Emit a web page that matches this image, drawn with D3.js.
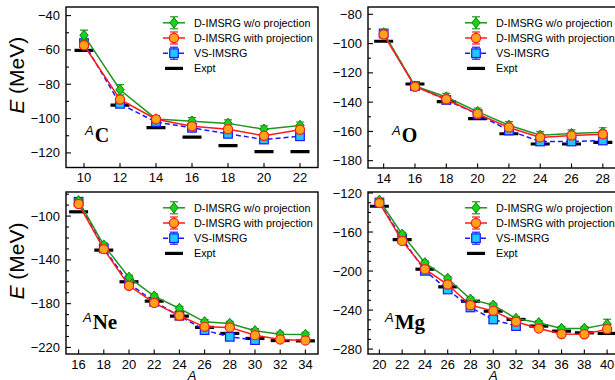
<!DOCTYPE html>
<html>
<head>
<meta charset="utf-8">
<script src="https://cdn.jsdelivr.net/npm/d3@7"></script>
<style>
  html, body { margin: 0; padding: 0; background: #fff; }
  svg { display: block; font-family: "Liberation Sans", Arial, sans-serif; }
</style>
</head>
<body>
<svg id="chart" width="615" height="380"></svg>
<script>
// ---- Carbon isotopes ----
const A_C = [10, 12, 14, 16, 18, 20, 22];
const C_noProj = [-51.5, -83.2, -100.2, -101.5, -102.8, -106.2, -104.0];
const C_noProjErr = [3, 3, 2, 2, 2, 2, 2];
const C_proj = [-57.3, -88.9, -100.4, -104.5, -106.2, -110.0, -106.5];
const C_projErr = [1.5, 1.5, 1.5, 1.5, 1.5, 1.5, 1.5];
const A_C_vs = [10, 12, 14, 16, 18, 20, 22];
const C_vs = [-56.0, -91.4, -102.0, -105.4, -108.9, -112.2, -110.3];
const C_vsErr = [1, 1, 1, 1, 1, 1, 1];
const C_expt = [-60.3, -92.2, -105.3, -110.8, -115.7, -119.2, -119.3];

// ---- Oxygen isotopes ----
const A_O = [14, 16, 18, 20, 22, 24, 26, 28];
const O_noProj = [-92.7, -129.0, -136.5, -146.5, -155.8, -162.6, -161.5, -160.5];
const O_noProjErr = [2.5, 2.5, 2.5, 2.5, 2.5, 2.5, 2.5, 3];
const O_proj = [-93.8, -129.5, -138.0, -148.0, -157.3, -164.1, -162.8, -161.9];
const O_projErr = [1.5, 1.5, 1.5, 1.5, 1.5, 1.5, 1.5, 2.5];
const A_O_vs = [14, 16, 18, 20, 22, 24, 26, 28];
const O_vs = [-93.1, -129.0, -138.5, -148.2, -159.4, -166.9, -166.9, -166.2];
const O_vsErr = [1, 1, 1, 1, 1, 1, 1, 1];
const O_expt = [-98.4, -127.6, -139.7, -151.2, -161.6, -168.6, -168.6, -167.5];

// ---- Neon isotopes ----
const A_Ne = [16, 18, 20, 22, 24, 26, 28, 30, 32, 34];
const Ne_noProj = [-86.0, -126.5, -156.0, -173.1, -184.4, -196.6, -198.1, -204.8, -207.9, -208.2];
const Ne_noProjErr = [2, 2, 2, 2, 2, 2, 2, 2, 2, 2];
const Ne_proj = [-89.0, -130.2, -163.7, -179.3, -191.1, -201.2, -201.7, -208.8, -212.7, -213.6];
const Ne_projErr = [1.5, 1.5, 1.5, 1.5, 1.5, 1.5, 1.5, 1.5, 1.5, 1.5];
const A_Ne_vs = [16, 18, 20, 22, 24, 26, 28, 30];
const Ne_vs = [-86.9, -129.5, -161.5, -178.3, -191.1, -204.2, -210.3, -213.3];
const Ne_vsErr = [1, 1, 1, 1, 1, 1, 1, 1];
const Ne_expt = [-96.1, -131.1, -160.0, -177.7, -191.4, -201.7, -207.2, -211.8, -213.7, -214.0];

// ---- Magnesium isotopes ----
const A_Mg = [20, 22, 24, 26, 28, 30, 32, 34, 36, 38, 40];
const Mg_noProj = [-127.5, -162.3, -191.6, -207.6, -228.8, -235.0, -248.6, -253.0, -258.8, -258.8, -254.4];
const Mg_noProjErr = [2, 2, 2, 2, 2, 2, 2, 2, 2, 2, 5];
const Mg_proj = [-130.2, -169.1, -198.1, -213.8, -235.0, -240.8, -252.0, -258.8, -264.6, -264.8, -259.5];
const Mg_projErr = [1.5, 1.5, 1.5, 1.5, 1.5, 1.5, 1.5, 1.5, 1.5, 2.5, 4];
const A_Mg_vs = [20, 22, 24, 26, 28, 30, 32];
const Mg_vs = [-129.8, -166.7, -199.8, -218.9, -237.3, -249.6, -256.4];
const Mg_vsErr = [1, 1, 1, 1, 1, 1, 1];
const Mg_expt = [-133.6, -167.7, -198.1, -216.2, -230.9, -241.1, -249.6, -256.4, -261.6, -263.3, -263.9];

// ---- Axis tick labels ----
const C_xTicks = [10, 12, 14, 16, 18, 20, 22];
const C_yTicks = [-40, -60, -80, -100, -120];
const O_xTicks = [14, 16, 18, 20, 22, 24, 26, 28];
const O_yTicks = [-80, -100, -120, -140, -160, -180];
const Ne_xTicks = [16, 18, 20, 22, 24, 26, 28, 30, 32, 34];
const Ne_yTicks = [-100, -140, -180, -220];
const Mg_xTicks = [20, 22, 24, 26, 28, 30, 32, 34, 36, 38, 40];
const Mg_yTicks = [-120, -160, -200, -240, -280];

const legendLabels = ["D-IMSRG w/o projection", "D-IMSRG with projection", "VS-IMSRG", "Expt"];

// ---- Series styles ----
const STYLE = {
  noProj: { line: "#1f951f", fill: "#19d219", stroke: "#0f7f0f", dash: null, shape: "diamond" },
  proj:   { line: "#ff1a1a", fill: "#ffa31a", stroke: "#ff1a1a", dash: null, shape: "circle" },
  vs:     { line: "#1a1aff", fill: "#1ccbf5", stroke: "#1a1aff", dash: "5,3", shape: "square" }
};

const panels = [
  { el: "C",  A: A_C,  noProj: C_noProj, noProjErr: C_noProjErr, proj: C_proj, projErr: C_projErr,
    Avs: A_C_vs, vs: C_vs, vsErr: C_vsErr, expt: C_expt, xTicks: C_xTicks, yTicks: C_yTicks,
    box: [66, 318, 7, 167.5], xDom: [9, 23], yDom: [-128.5, -35], minor: 10,
    label: [19, 26, 20], yTitle: true, xTitle: false },
  { el: "O",  A: A_O,  noProj: O_noProj, noProjErr: O_noProjErr, proj: O_proj, projErr: O_projErr,
    Avs: A_O_vs, vs: O_vs, vsErr: O_vsErr, expt: O_expt, xTicks: O_xTicks, yTicks: O_yTicks,
    box: [368, 618.5, 7, 168], xDom: [13, 29], yDom: [-185, -75], minor: 10,
    label: [24, 26, 20], yTitle: false, xTitle: false },
  { el: "Ne", A: A_Ne, noProj: Ne_noProj, noProjErr: Ne_noProjErr, proj: Ne_proj, projErr: Ne_projErr,
    Avs: A_Ne_vs, vs: Ne_vs, vsErr: Ne_vsErr, expt: Ne_expt, xTicks: Ne_xTicks, yTicks: Ne_yTicks,
    box: [66, 318, 192, 354], xDom: [15, 35], yDom: [-226, -78], minor: 10,
    label: [17, 25, 21], yTitle: true, xTitle: true },
  { el: "Mg", A: A_Mg, noProj: Mg_noProj, noProjErr: Mg_noProjErr, proj: Mg_proj, projErr: Mg_projErr,
    Avs: A_Mg_vs, vs: Mg_vs, vsErr: Mg_vsErr, expt: Mg_expt, xTicks: Mg_xTicks, yTicks: Mg_yTicks,
    box: [368, 618.5, 192, 354], xDom: [19, 41], yDom: [-285, -119], minor: 10,
    label: [17, 25, 21], yTitle: false, xTitle: true }
];

const svg = d3.select("#chart");
const fmt = v => (v < 0 ? "\u2212" + Math.abs(v) : String(v));

function drawMarker(g, shape, cx, cy, st) {
  if (shape === "diamond") {
    g.append("path")
      .attr("d", `M${cx},${cy - 5.2}L${cx + 4.2},${cy}L${cx},${cy + 5.2}L${cx - 4.2},${cy}Z`)
      .attr("fill", st.fill).attr("stroke", st.stroke).attr("stroke-width", 1);
  } else if (shape === "circle") {
    g.append("circle").attr("cx", cx).attr("cy", cy).attr("r", 4.6)
      .attr("fill", st.fill).attr("stroke", st.stroke).attr("stroke-width", 1.2);
  } else {
    g.append("rect").attr("x", cx - 4.3).attr("y", cy - 4.3).attr("width", 8.6).attr("height", 8.6)
      .attr("fill", st.fill).attr("stroke", st.stroke).attr("stroke-width", 1.2);
  }
}

function drawErr(g, cx, y1, y2, color) {
  g.append("line").attr("x1", cx).attr("x2", cx).attr("y1", y1).attr("y2", y2)
    .attr("stroke", color).attr("stroke-width", 1.2);
  [y1, y2].forEach(yy => g.append("line").attr("x1", cx - 4).attr("x2", cx + 4)
    .attr("y1", yy).attr("y2", yy).attr("stroke", color).attr("stroke-width", 1.2));
}

panels.forEach(p => {
  const [x0, x1, y0, y1] = p.box;
  const x = d3.scaleLinear().domain(p.xDom).range([x0, x1]);
  const y = d3.scaleLinear().domain(p.yDom).range([y1, y0]);
  const clipId = "clip-" + p.el;
  svg.append("clipPath").attr("id", clipId).append("rect")
    .attr("x", x0).attr("y", y0).attr("width", x1 - x0).attr("height", y1 - y0);

  const g = svg.append("g");
  const plot = g.append("g").attr("clip-path", `url(#${clipId})`);

  // Expt bars
  p.expt.forEach((v, i) => {
    plot.append("line").attr("x1", x(p.A[i]) - 9.5).attr("x2", x(p.A[i]) + 9.5)
      .attr("y1", y(v)).attr("y2", y(v)).attr("stroke", "#000").attr("stroke-width", 3.2);
  });

  const series = [
    { key: "vs", xs: p.Avs, vals: p.vs, err: p.vsErr },
    { key: "noProj", xs: p.A, vals: p.noProj, err: p.noProjErr },
    { key: "proj", xs: p.A, vals: p.proj, err: p.projErr }
  ];
  series.forEach(s => {
    const st = STYLE[s.key];
    const pts = s.xs.map((a, i) => [x(a), y(s.vals[i])]);
    plot.append("path").attr("d", d3.line()(pts)).attr("fill", "none")
      .attr("stroke", st.line).attr("stroke-width", 1.5)
      .attr("stroke-dasharray", st.dash);
    s.xs.forEach((a, i) => drawErr(plot, x(a), y(s.vals[i] + s.err[i]), y(s.vals[i] - s.err[i]), st.line));
    pts.forEach(pt => drawMarker(plot, st.shape, pt[0], pt[1], st));
  });

  // Frame
  g.append("rect").attr("x", x0).attr("y", y0).attr("width", x1 - x0).attr("height", y1 - y0)
    .attr("fill", "none").attr("stroke", "#000").attr("stroke-width", 1.4);

  // Y ticks (inward), minor every 10
  const [ylo, yhi] = p.yDom;
  for (let v = Math.ceil(ylo / p.minor) * p.minor; v <= yhi; v += p.minor) {
    const major = p.yTicks.includes(v);
    g.append("line").attr("x1", x0).attr("x2", x0 + (major ? 5 : 3))
      .attr("y1", y(v)).attr("y2", y(v)).attr("stroke", "#000").attr("stroke-width", 1.1);
  }
  p.yTicks.forEach(v => {
    g.append("text").attr("x", x0 - 6).attr("y", y(v)).attr("dy", "0.35em")
      .attr("text-anchor", "end").attr("font-size", 13).attr("fill", "#000").text(fmt(v));
  });

  // X ticks (inward)
  p.xTicks.forEach(v => {
    g.append("line").attr("x1", x(v)).attr("x2", x(v)).attr("y1", y1).attr("y2", y1 - 4.5)
      .attr("stroke", "#000").attr("stroke-width", 1.1);
    g.append("text").attr("x", x(v)).attr("y", y1 + 14.5).attr("text-anchor", "middle")
      .attr("font-size", 13).attr("fill", "#000").text(v);
  });

  // Nucleus label, e.g. ^A C
  const lt = g.append("text").attr("x", x0 + p.label[0]).attr("y", y1 - p.label[1]);
  lt.append("tspan").attr("font-size", 13).attr("font-style", "italic").attr("dy", -7).text("A");
  lt.append("tspan").attr("font-family", "'Liberation Serif', 'Times New Roman', serif")
    .attr("font-weight", "bold").attr("font-size", p.label[2]).attr("dy", 7).attr("dx", 1).text(p.el);

  // Legend
  const keys = ["noProj", "proj", "vs"];
  legendLabels.forEach((lab, i) => {
    const ly = y0 + 15.8 + i * 15.2;
    const lx = x0 + 97, cx = x0 + 108;
    if (i < 3) {
      const st = STYLE[keys[i]];
      g.append("line").attr("x1", lx).attr("x2", lx + 22).attr("y1", ly).attr("y2", ly)
        .attr("stroke", st.line).attr("stroke-width", 1.5).attr("stroke-dasharray", st.dash);
      drawErr(g, cx, ly - 6, ly + 6, st.line);
      drawMarker(g, st.shape, cx, ly, st);
    } else {
      g.append("line").attr("x1", lx + 2).attr("x2", lx + 20).attr("y1", ly).attr("y2", ly)
        .attr("stroke", "#000").attr("stroke-width", 3.2);
    }
    g.append("text").attr("x", x0 + 128).attr("y", ly).attr("dy", "0.35em")
      .attr("font-size", 10.8).attr("fill", "#000").text(lab);
  });

  // Axis titles
  if (p.yTitle) {
    const cy = (y0 + y1) / 2 - 12;
    const t = g.append("text").attr("transform", `translate(24,${cy}) rotate(-90)`)
      .attr("text-anchor", "middle").attr("font-size", 21).attr("fill", "#000");
    t.append("tspan").attr("font-style", "italic").text("E");
    t.append("tspan").text(" (MeV)");
  }
  if (p.xTitle) {
    g.append("text").attr("x", x((p.xDom[0] + p.xDom[1]) / 2)).attr("y", 379.5)
      .attr("text-anchor", "middle").attr("font-size", 13).attr("font-style", "italic").text("A");
  }
});
</script>
</body>
</html>
